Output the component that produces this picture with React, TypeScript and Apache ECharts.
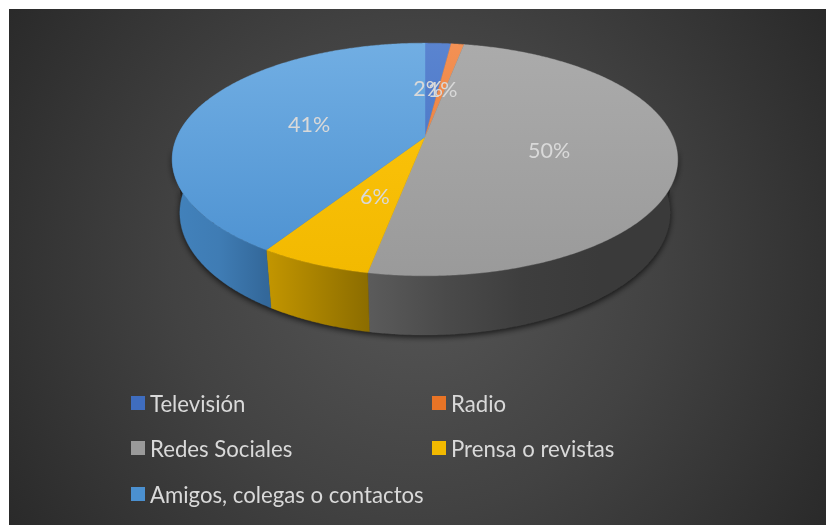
import React, { useEffect, useRef } from "react";
import * as echarts from "echarts";

const categories = ["Televisión", "Radio", "Redes Sociales", "Prensa o revistas", "Amigos, colegas o contactos"];
const shares = [2, 1, 50, 6, 41];
const topColors = [
  ["#5a84d0", "#3f6dbf"],
  ["#f39155", "#e97426"],
  ["#ababab", "#9a9a9a"],
  ["#ffc60f", "#f2b900"],
  ["#71aee3", "#4b90d0"],
];
const wallColors = [
  ["#355a9c", "#2c4a82"],
  ["#b95f22", "#9c5020"],
  ["#5b5b5b", "#4a4a4a", "#3e3e3e", "#3a3a3a", "#3a3a3a"],
  ["#c39600", "#8c6d00"],
  ["#4282bc", "#3f7cb4", "#33689a"],
];
const legendTops = [392, 392, 437, 437, 483];
const legendLefts = [131, 432, 131, 432, 131];

const W = 826;
const H = 525;
const total = shares.reduce((a, b) => a + b, 0);

// Tilted disc as a projective image of the unit circle
const cx = 425;
const apexY = 137;
const scaleU = 248;
const scaleV = 112;
const tilt = 0.193;
const wallDepth = 58;
const wallShrink = 0.97;
const wallLowest = 251;

const project = (deg: number, r = 1) => {
  const t = (deg * Math.PI) / 180;
  const u = r * Math.sin(t);
  const v = -r * Math.cos(t);
  const w = 1 - tilt * v;
  return [cx + (scaleU * u) / w, apexY + (scaleV * v) / w];
};
const lower = (p: number[]) => [
  cx + (p[0] - cx) * wallShrink,
  p[1] + wallDepth + (p[1] - wallLowest) * 0.05,
];
const arcPoints = (from: number, to: number) => {
  const pts: number[][] = [];
  const n = Math.max(2, Math.ceil(Math.abs(to - from) * 2));
  for (let i = 0; i <= n; i++) pts.push(project(from + ((to - from) * i) / n));
  return pts;
};
const sliceAngles = (index: number) => {
  const before = shares.slice(0, index).reduce((a, b) => a + b, 0);
  return [(before / total) * 360, ((before + shares[index]) / total) * 360];
};
const WALL_FROM = 70;
const WALL_TO = 290;

const wallOutline = (index: number) => {
  const [a, b] = sliceAngles(index);
  const from = Math.max(a, WALL_FROM);
  const to = Math.min(b, WALL_TO);
  if (to <= from) return null;
  const top = arcPoints(from, to);
  return { points: top.concat(top.slice().reverse().map(lower)), top };
};

const evenStops = (colors: string[]) =>
  colors.map((color, i) => ({ offset: i / (colors.length - 1), color }));

const slices = categories.map((name, index) => {
  const renderItem = () => {
    const [a, b] = sliceAngles(index);
    const children: any[] = [];
    const wall = wallOutline(index);
    if (wall) {
      const xs = wall.top.map((p) => p[0]);
      const fill = new echarts.graphic.LinearGradient(
        Math.min(...xs), 0, Math.max(...xs), 0,
        evenStops(wallColors[index]),
        true,
      );
      children.push({
        type: "polygon",
        shape: { points: wall.points },
        style: { fill, stroke: fill, lineWidth: 0.4 },
      });
    }
    const fill = new echarts.graphic.LinearGradient(0, 43, 0, 277, evenStops(topColors[index]), true);
    children.push({
      type: "polygon",
      shape: { points: [project(0, 0), ...arcPoints(a, b)] },
      style: { fill, stroke: fill, lineWidth: 0.4 },
    });
    return { type: "group", children };
  };
  return {
    type: "custom",
    name,
    coordinateSystem: "none",
    silent: true,
    itemStyle: { color: topColors[index][1] },
    data: [[shares[index]]],
    renderItem,
  };
});

// Soft shadow thrown by the disc's rim, drawn beneath the slices
const rimShadow = {
  type: "custom",
  name: "rim",
  coordinateSystem: "none",
  silent: true,
  data: [[0]],
  renderItem: () => {
    const top = arcPoints(WALL_FROM + 25, WALL_TO - 25);
    return {
      type: "polygon",
      shape: { points: top.concat(top.slice().reverse().map(lower)) },
      style: {
        fill: "#222",
        shadowBlur: 6,
        shadowColor: "rgba(0,0,0,0.75)",
        shadowOffsetY: 2,
        shadowOffsetX: 0,
      },
    };
  },
};

const percentLabels = {
  type: "custom",
  name: "labels",
  coordinateSystem: "none",
  silent: true,
  z: 10,
  data: shares.map((v, i) => [v, i]),
  renderItem: (_: any, api: any) => {
    const i = api.value(1);
    const [a, b] = sliceAngles(i);
    const p = project((a + b) / 2, 0.5);
    return {
      type: "text",
      style: {
        text: `${api.value(0)}%`,
        x: p[0] - (i === 0 ? 4 : 0),
        y: p[1] + 2,
        fill: "#d9d9d9",
        font: "21.5px Lato",
        align: "center",
        verticalAlign: "middle",
      },
    };
  },
};

const App = () => {
  const ref = useRef<HTMLDivElement>(null);
  useEffect(() => {
    const chart = echarts.init(ref.current!, null, { renderer: "svg" });
    chart.setOption({
      animation: false,
      graphic: [
        {
          type: "rect",
          z: -10,
          shape: { x: 9, y: 9, width: W - 9, height: H - 9 },
          style: {
            fill: new echarts.graphic.RadialGradient(
              417, 267, 490,
              [
                { offset: 0, color: "#565656" },
                { offset: 0.5, color: "#424242" },
                { offset: 1, color: "#292929" },
              ],
              true,
            ),
          },
        },
      ],
      legend: categories.map((name, i) => ({
        data: [{ name, icon: "rect" }],
        left: legendLefts[i],
        top: legendTops[i],
        padding: 0,
        itemWidth: 14,
        itemHeight: 14,
        itemGap: 0,
        selectedMode: false,
        textStyle: { color: "#d9d9d9", fontSize: 22.2, fontFamily: "Lato" },
      })),
      series: [rimShadow, ...slices, percentLabels],
    });
    return () => chart.dispose();
  }, []);
  return <div ref={ref} style={{ position: "fixed", left: 0, top: 0, width: W, height: H }} />;
};

export default App;
